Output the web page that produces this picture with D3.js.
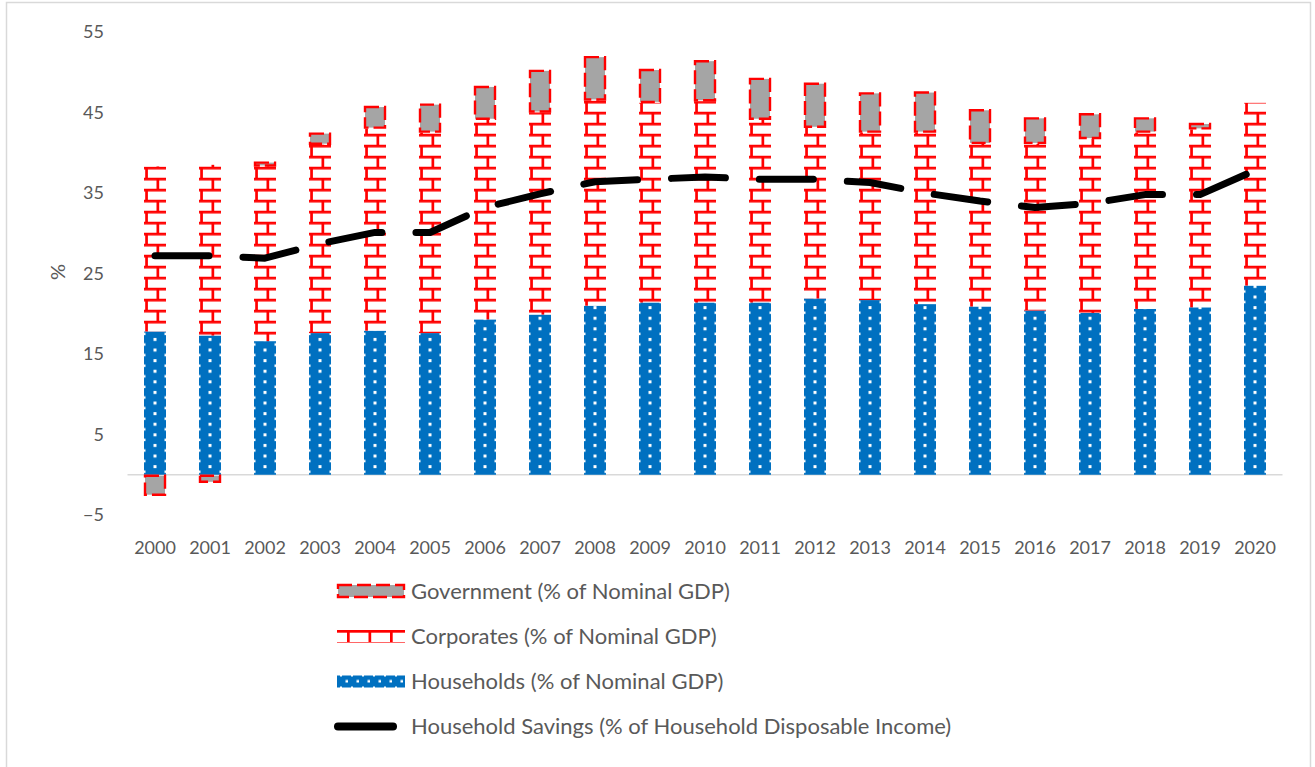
<!DOCTYPE html>
<html>
<head>
<meta charset="utf-8">
<script src="https://cdn.jsdelivr.net/npm/d3@7"></script>
<style>
  html, body { margin: 0; padding: 0; background: #fff; }
  svg { display: block; }
  text { font-family: Lato, "Open Sans", sans-serif; fill: #595959; }
</style>
</head>
<body>
<svg id="chart" width="1315" height="767"></svg>
<script>
const years = ["2000","2001","2002","2003","2004","2005","2006","2007","2008","2009","2010",
               "2011","2012","2013","2014","2015","2016","2017","2018","2019","2020"];
const households = [17.8,17.3,16.6,17.6,17.9,17.6,19.3,19.9,21.0,21.4,21.4,21.4,21.9,21.7,21.2,20.9,20.4,20.1,20.6,20.8,23.5];
const corporates = [20.5,21.2,21.7,23.4,25.1,24.9,24.8,25.1,25.5,24.8,25.0,22.7,21.2,20.8,21.3,20.2,20.7,21.6,21.9,22.1,22.7];
const government = [-2.6,-1.0,0.6,1.5,2.8,3.6,4.2,5.3,5.5,4.2,5.1,5.2,5.6,5.0,5.1,4.3,3.3,3.2,1.9,0.8,-0.2];
const savings = [27.2,27.2,26.9,28.7,30.1,30.1,33.2,34.9,36.4,36.7,37.0,36.7,36.7,36.3,35.0,34.0,33.2,33.7,34.8,34.8,37.8];
const yTicks = [-5,5,15,25,35,45,55];
const legendLabels = ["Government (% of Nominal GDP)","Corporates (% of Nominal GDP)",
                      "Households (% of Nominal GDP)","Household Savings (% of Household Disposable Income)"];
const yAxisTitle = "%";

const svg = d3.select("#chart");
const defs = svg.append("defs");

// outer frame
svg.append("rect").attr("x",6.5).attr("y",2.5).attr("width",1304).attr("height",800)
  .attr("fill","none").attr("stroke","#D9D9D9").attr("stroke-width",1.5);

const x = d3.scaleBand().domain(years).range([127.5,1282.5]).paddingInner(0.6).paddingOuter(0.3);
const y = d3.scaleLinear().domain([-5,55]).range([515,32]);
const bw = x.bandwidth();

const RED = "#FF0000", BLUE = "#0070C0", GRAY = "#A5A5A5";

// patterns per bar
years.forEach((yr,i) => {
  const x0 = x(yr);
  const ph = defs.append("pattern").attr("id","hh"+i).attr("patternUnits","userSpaceOnUse")
    .attr("x",x0).attr("y",y(0)).attr("width",22).attr("height",10.6);
  ph.append("rect").attr("width",22).attr("height",10.6).attr("fill",BLUE);
  ph.append("rect").attr("x",9.5).attr("y",1).attr("width",3).attr("height",3).attr("fill","#fff");
  ph.append("rect").attr("x",-1).attr("y",6.3).attr("width",2.5).attr("height",2.5).attr("fill","#fff");
  ph.append("rect").attr("x",20.5).attr("y",6.3).attr("width",2.5).attr("height",2.5).attr("fill","#fff");

  const pb = defs.append("pattern").attr("id","br"+i).attr("patternUnits","userSpaceOnUse")
    .attr("x",x0).attr("y",y(0)).attr("width",22).attr("height",22);
  pb.append("rect").attr("width",22).attr("height",22).attr("fill","#fff");
  pb.append("rect").attr("x",0).attr("y",0).attr("width",22).attr("height",2.7).attr("fill",RED);
  pb.append("rect").attr("x",0).attr("y",11).attr("width",22).attr("height",2.7).attr("fill",RED);
  pb.append("rect").attr("x",1.2).attr("y",0).attr("width",2.7).attr("height",11).attr("fill",RED);
  pb.append("rect").attr("x",12.5).attr("y",11).attr("width",2.7).attr("height",11).attr("fill",RED);
});

// zero axis line
svg.append("line").attr("x1",127.5).attr("x2",1282.5).attr("y1",y(0)).attr("y2",y(0))
  .attr("stroke","#D9D9D9").attr("stroke-width",1.5);

// bars
const data = years.map((yr,i) => ({yr,i,h:households[i],c:corporates[i],g:government[i],s:savings[i]}));
const g = svg.append("g");
data.forEach(d => {
  const x0 = x(d.yr);
  g.append("rect").attr("x",x0).attr("width",bw)
    .attr("y",y(d.h)).attr("height",y(0)-y(d.h)).attr("fill",`url(#hh${d.i})`);
  g.append("rect").attr("x",x0).attr("width",bw)
    .attr("y",y(d.h+d.c)).attr("height",y(d.h)-y(d.h+d.c)).attr("fill",`url(#br${d.i})`);
  let top, bot;
  if (d.g >= 0) { top = d.h + d.c + d.g; bot = d.h + d.c; } else { top = 0; bot = d.g; }
  g.append("rect").attr("x",x0+1).attr("width",bw-2)
    .attr("y",y(top)+1).attr("height",Math.max(0,y(bot)-y(top)-2))
    .attr("fill",GRAY).attr("stroke",RED).attr("stroke-width",2.4).attr("stroke-dasharray","14,5");
});

// savings line
const line = d3.line().x(d => x(d.yr)+bw/2).y(d => y(d.s));
svg.append("path").datum(data).attr("d",line).attr("fill","none").attr("stroke","#000")
  .attr("stroke-width",7).attr("stroke-linecap","round").attr("stroke-linejoin","round")
  .attr("stroke-dasharray","54,34");

// y axis labels
const yAxis = d3.axisLeft(y).tickValues(yTicks).tickSize(0).tickPadding(0).tickFormat(d3.format("d"));
const ya = svg.append("g").attr("transform","translate(104,0)").call(yAxis);
ya.select(".domain").remove();
ya.selectAll("text").attr("font-size",18).attr("fill","#595959").attr("font-family","Lato");

// x axis labels
const xAxis = d3.axisBottom(x).tickSize(0).tickPadding(0);
const xa = svg.append("g").attr("transform","translate(0,541)").call(xAxis);
xa.select(".domain").remove();
xa.selectAll("text").attr("font-size",18).attr("fill","#595959").attr("font-family","Lato");

// y axis title
svg.append("text").attr("transform","translate(65,272) rotate(-90)").attr("text-anchor","middle")
  .attr("font-size",20).text(yAxisTitle);

// legend
const lg = svg.append("g");
const rowsY = [591,636,681.5,726.5];
// government swatch
lg.append("rect").attr("x",338).attr("y",rowsY[0]-6).attr("width",66).attr("height",12)
  .attr("fill",GRAY).attr("stroke",RED).attr("stroke-width",2.4).attr("stroke-dasharray","14,5");
// corporates swatch
const cs = lg.append("g");
cs.append("rect").attr("x",337).attr("y",rowsY[1]-6).attr("width",68).attr("height",2.7).attr("fill",RED);
cs.append("rect").attr("x",337).attr("y",rowsY[1]+6).attr("width",68).attr("height",1).attr("fill","#FF6666");
[347,368.5,390].forEach(vx => cs.append("rect").attr("x",vx).attr("y",rowsY[1]-6).attr("width",2.7).attr("height",12).attr("fill",RED));
// households swatch
const lp = defs.append("pattern").attr("id","hhLeg").attr("patternUnits","userSpaceOnUse")
  .attr("x",337).attr("y",rowsY[2]-6).attr("width",11).attr("height",12);
lp.append("rect").attr("width",11).attr("height",12).attr("fill",BLUE);
lp.append("rect").attr("x",8.5).attr("y",4.5).attr("width",2.5).attr("height",2.5).attr("fill","#fff");
lp.append("rect").attr("x",3).attr("y",-1).attr("width",2).attr("height",2).attr("fill","#fff");
lp.append("rect").attr("x",3).attr("y",11).attr("width",2).attr("height",2).attr("fill","#fff");
lg.append("rect").attr("x",337).attr("y",rowsY[2]-6).attr("width",68).attr("height",12).attr("fill","url(#hhLeg)");
// savings swatch
lg.append("line").attr("x1",338).attr("x2",393).attr("y1",rowsY[3]).attr("y2",rowsY[3])
  .attr("stroke","#000").attr("stroke-width",8).attr("stroke-linecap","round");
legendLabels.forEach((t,i) => {
  lg.append("text").attr("x",411).attr("y",rowsY[i]).attr("dy","0.35em").attr("font-size",22).text(t);
});
</script>
</body>
</html>
